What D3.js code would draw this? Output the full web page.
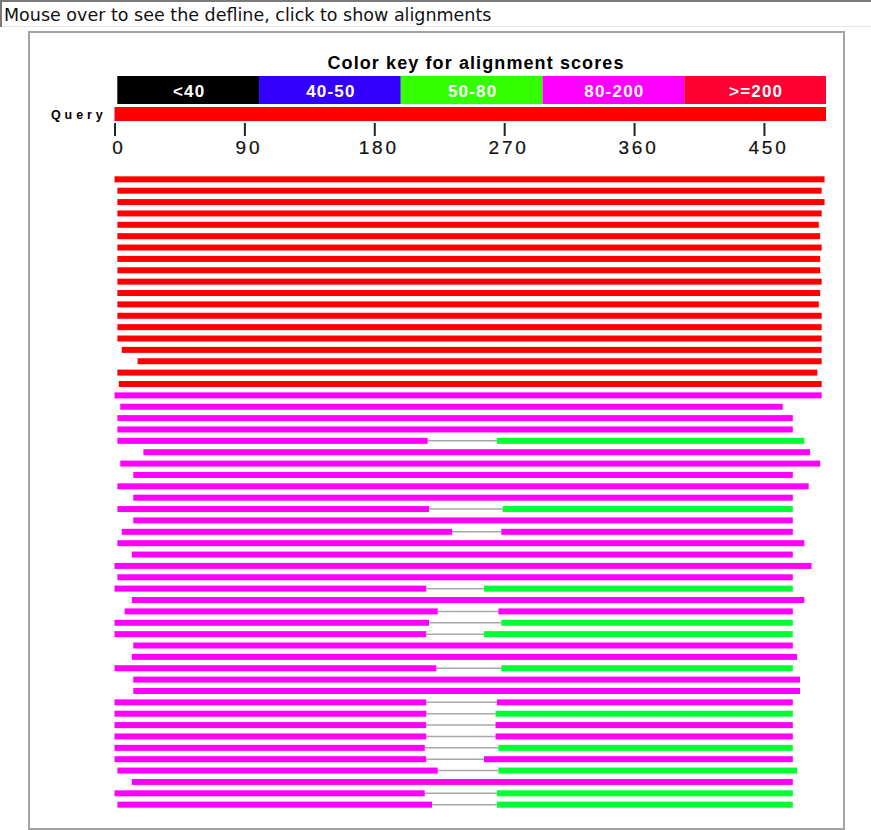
<!DOCTYPE html>
<html>
<head>
<meta charset="utf-8">
<script src="https://cdn.jsdelivr.net/npm/d3@7"></script>
<style>
  html, body { margin: 0; padding: 0; background: #fff; }
  svg { display: block; }
</style>
</head>
<body>
<svg id="chart" width="871" height="830"></svg>
<script>
// ---------- data ----------
const hintText = "Mouse over to see the defline, click to show alignments";
const chartTitle = "Color key for alignment scores";
const scoreBins = ["<40", "40-50", "50-80", "80-200", ">=200"];
const queryLabel = "Query";
const queryLength = 493;
const tickValues = [0, 90, 180, 270, 360, 450];

// each hit: first aligned segment (start/end on the query, score bin index),
// optional second segment after a gap (null when absent)
const seg1Start = [0,2,2,2,2,2,2,2,2,2,2,2,2,2,2,5,16,2,3,
  0,4,2,2,2,20,4,13,2,13,2,13,5,2,12,0,2,0,12,7,0,0,13,12,0,13,13,0,0,0,0,0,0,2,12,0,2];
const seg1End = [492,490,492,490,488,489,490,489,489,490,489,488,490,490,490,490,490,487,490,
  490,463,470,470,217,482,489,470,481,470,218,470,234,478,470,483,470,216,478,224,218,216,470,473,223,475,475,216,216,216,216,215,216,224,470,215,220];
const seg1Bin = [4,4,4,4,4,4,4,4,4,4,4,4,4,4,4,4,4,4,4,
  3,3,3,3,3,3,3,3,3,3,3,3,3,3,3,3,3,3,3,3,3,3,3,3,3,3,3,3,3,3,3,3,3,3,3,3,3];
const seg2Start = [null,null,null,null,null,null,null,null,null,null,null,null,null,null,null,null,null,null,null,
  null,null,null,null,265,null,null,null,null,null,269,null,268,null,null,null,null,256,null,266,268,256,null,null,268,null,null,265,264,264,264,266,256,266,null,265,265];
const seg2End = [null,null,null,null,null,null,null,null,null,null,null,null,null,null,null,null,null,null,null,
  null,null,null,null,478,null,null,null,null,null,470,null,470,null,null,null,null,470,null,470,470,470,null,null,470,null,null,470,470,470,470,470,470,473,null,470,470];
const seg2Bin = [null,null,null,null,null,null,null,null,null,null,null,null,null,null,null,null,null,null,null,
  null,null,null,null,2,null,null,null,null,null,2,null,3,null,null,null,null,2,null,3,2,2,null,null,2,null,null,3,2,3,3,2,3,2,null,2,2];

// ---------- styles ----------
const keyColors = ["#000000", "#3300ff", "#33ff00", "#ff00ff", "#ff0033"];
const hitColors = ["#000000", "#3300ff", "#00ff33", "#ff00ff", "#ff0000"];

// ---------- drawing ----------
const svg = d3.select("#chart");

// hint box
svg.append("rect").attr("x", 0.5).attr("y", 0.5).attr("width", 875).attr("height", 26)
  .attr("fill", "#fff").attr("stroke", "#e4e4e4").attr("stroke-width", 1);
svg.append("line").attr("x1", 0).attr("x2", 871).attr("y1", 1).attr("y2", 1)
  .attr("stroke", "#7a7a7a").attr("stroke-width", 2);
svg.append("line").attr("x1", 1).attr("x2", 1).attr("y1", 0).attr("y2", 27)
  .attr("stroke", "#7a7a7a").attr("stroke-width", 2);
svg.append("text").attr("x", 4).attr("y", 20.5)
  .attr("font-family", "DejaVu Sans").attr("font-size", "17.5px").attr("fill", "#111")
  .text(hintText);

// frame
svg.append("rect").attr("x", 29).attr("y", 32).attr("width", 815).attr("height", 797)
  .attr("fill", "none").attr("stroke", "#a3a3a3").attr("stroke-width", 2);

// title
svg.append("text").attr("x", 476).attr("y", 68.5).attr("text-anchor", "middle")
  .attr("font-family", "Liberation Sans").attr("font-weight", "bold")
  .attr("font-size", "18px").attr("letter-spacing", "1.1px").attr("fill", "#000")
  .text(chartTitle);

// color key
const keyX = d3.scaleBand().domain(scoreBins).range([117.3, 826]);
const key = svg.append("g");
key.selectAll("rect").data(scoreBins).join("rect")
  .attr("x", d => keyX(d)).attr("y", 76).attr("width", keyX.bandwidth()).attr("height", 28)
  .attr("fill", (d, i) => keyColors[i]);
key.selectAll("text").data(scoreBins).join("text")
  .attr("x", d => keyX(d) + keyX.bandwidth() / 2 + 1).attr("y", 96.5)
  .attr("text-anchor", "middle")
  .attr("font-family", "Liberation Sans").attr("font-weight", "bold")
  .attr("font-size", "17px").attr("letter-spacing", "1.2px").attr("fill", "#fff")
  .text(d => d);

// query scale
const x = d3.scaleLinear().domain([0, queryLength]).range([114.5, 826]);

// query bar
svg.append("text").attr("x", 51).attr("y", 118.5)
  .attr("font-family", "Liberation Sans").attr("font-weight", "bold")
  .attr("font-size", "12.5px").attr("letter-spacing", "3.9px").attr("fill", "#000")
  .text(queryLabel);
svg.append("rect").attr("x", x(0)).attr("y", 107).attr("width", x(queryLength) - x(0)).attr("height", 14)
  .attr("fill", "#ff0000");

// axis
const axis = svg.append("g").attr("transform", "translate(0,123)")
  .call(d3.axisBottom(x).tickValues(tickValues).tickSize(13).tickFormat(d3.format("d")));
axis.select(".domain").remove();
axis.selectAll(".tick line").attr("stroke", "#222").attr("stroke-width", 2);
axis.selectAll(".tick text")
  .attr("y", 30.5).attr("dy", 0).attr("dx", 4)
  .attr("font-family", "Liberation Sans").attr("font-size", "19px")
  .attr("letter-spacing", "2.8px").attr("fill", "#111")
  .attr("stroke", "#111").attr("stroke-width", 0.2);

// hits
const rowIdx = d3.range(seg1Start.length);
const y = d3.scalePoint().domain(rowIdx).range([179.33, 179.33 + (rowIdx.length - 1) * 11.37]);
const barH = 6;

const hits = svg.append("g");
// gap connectors
hits.selectAll("line.gap").data(rowIdx.filter(i => seg2Start[i] !== null)).join("line")
  .attr("class", "gap")
  .attr("x1", i => x(seg1End[i])).attr("x2", i => x(seg2Start[i]))
  .attr("y1", i => y(i)).attr("y2", i => y(i))
  .attr("stroke", "#a8a8a8").attr("stroke-width", 1.5);
// first segments
hits.selectAll("rect.s1").data(rowIdx).join("rect")
  .attr("class", "s1")
  .attr("x", i => x(seg1Start[i])).attr("width", i => x(seg1End[i]) - x(seg1Start[i]))
  .attr("y", i => y(i) - barH / 2).attr("height", barH)
  .attr("fill", i => hitColors[seg1Bin[i]]);
// second segments
hits.selectAll("rect.s2").data(rowIdx.filter(i => seg2Start[i] !== null)).join("rect")
  .attr("class", "s2")
  .attr("x", i => x(seg2Start[i])).attr("width", i => x(seg2End[i]) - x(seg2Start[i]))
  .attr("y", i => y(i) - barH / 2).attr("height", barH)
  .attr("fill", i => hitColors[seg2Bin[i]]);
</script>
</body>
</html>
